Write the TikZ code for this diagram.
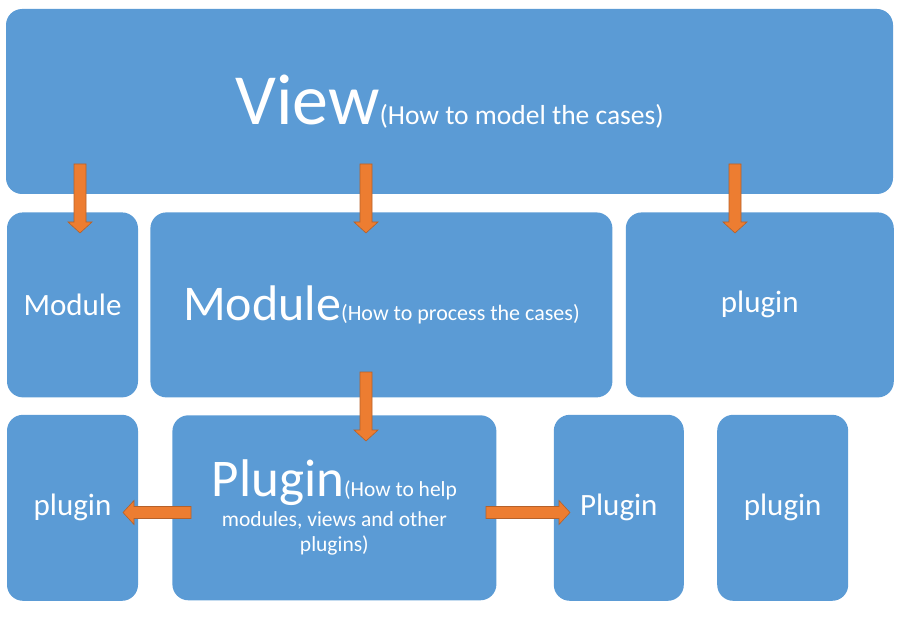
\documentclass[tikz,border=0pt]{standalone}
\usepackage{fontspec}
\setmainfont{Carlito}
\usetikzlibrary{positioning,calc}
\definecolor{boxblue}{HTML}{5B9BD5}
\definecolor{arroworange}{HTML}{ED7D31}
\definecolor{arrowedge}{HTML}{B5612A}

\begin{document}
\begin{tikzpicture}[x=1pt,y=-1pt]

              % Definitions
              \tikzstyle{Box} = [rectangle, rounded corners=16pt, fill=boxblue, text=white, inner sep=0pt, text centered]
              \tikzstyle{BlockArrow} = [fill=arroworange, draw=arrowedge, line width=0.6pt, to path={
                ($(\tikztotarget)!11pt!(\tikztostart)$) coordinate (ah)
                ($(\tikztostart)!6pt!90:(\tikztotarget)$)
                -- ($(ah)!6pt!90:(\tikztotarget)$) -- ($(ah)!12pt!90:(\tikztotarget)$)
                -- (\tikztotarget)
                -- ($(ah)!12pt!-90:(\tikztotarget)$) -- ($(ah)!6pt!-90:(\tikztotarget)$)
                -- ($(\tikztostart)!6pt!-90:(\tikztotarget)$) -- cycle}]

              \useasboundingbox (0,0) rectangle (898,623);

              \node (view) [Box, minimum width=887pt, minimum height=185pt] at (449.5,101.5)
                {\fontsize{72}{80}\selectfont View\fontsize{27.5}{33}\selectfont(How to model the cases)};

              \node (mod1) [Box, minimum width=131pt, minimum height=185pt, below=18pt of view.south west, anchor=north west, xshift=1pt]
                {\fontsize{31}{36}\selectfont Module};
              \node (mod2) [Box, minimum width=462pt, minimum height=185pt, right=12pt of mod1]
                {\fontsize{50}{58}\selectfont Module\fontsize{22}{26}\selectfont(How to process the cases)};
              \node (plug1) [Box, minimum width=268pt, minimum height=185pt, right=13pt of mod2]
                {\fontsize{31}{36}\selectfont plugin};

              \node (plugA) [Box, minimum width=131pt, minimum height=186pt, below=17pt of mod1]
                {\fontsize{31}{36}\selectfont plugin};
              \node (plugC) [Box, minimum width=324pt, minimum height=185pt, right=34pt of plugA, align=center,
                             font=\fontsize{21.5}{25.6}\selectfont]
                {{\fontsize{53}{60}\selectfont Plugin}(How to help\\[4pt]modules, views and other\\plugins)};
              \node (plugB) [Box, minimum width=130pt, minimum height=186pt, right=57pt of plugC]
                {\fontsize{31}{36}\selectfont Plugin};
              \node (plugD) [Box, minimum width=131pt, minimum height=186pt, right=33pt of plugB]
                {\fontsize{31}{36}\selectfont plugin};

              % arrow ends
              \coordinate (a1s) at (80,164);   \coordinate (a1e) at (80,233);
              \coordinate (a2s) at (366,164);  \coordinate (a2e) at (366,233);
              \coordinate (a3s) at (735,164);  \coordinate (a3e) at (735,233);
              \coordinate (a4s) at (366,372);  \coordinate (a4e) at (366,441);
              \coordinate (a5s) at (191,512.5); \coordinate (a5e) at (123,512.5);
              \coordinate (a6s) at (486,512.5); \coordinate (a6e) at (570,512.5);

              \draw [BlockArrow] (a1s) to (a1e);
              \draw [BlockArrow] (a2s) to (a2e);
              \draw [BlockArrow] (a3s) to (a3e);
              \draw [BlockArrow] (a4s) to (a4e);
              \draw [BlockArrow] (a5s) to (a5e);
              \draw [BlockArrow] (a6s) to (a6e);

\end{tikzpicture}
\end{document}
